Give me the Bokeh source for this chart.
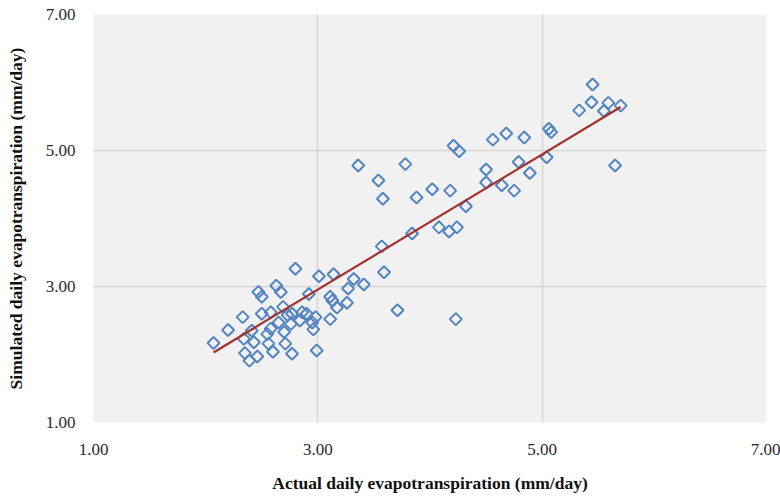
import math
from bokeh.plotting import figure
from bokeh.models import ColumnDataSource, FixedTicker, Range1d
from bokeh.embed import file_html
from bokeh.resources import INLINE

# Actual (x) vs simulated (y) daily evapotranspiration, mm/day
actual = [2.07, 2.20, 2.33, 2.47, 2.50, 2.63, 2.67, 2.92, 2.50, 2.58,
          2.69, 2.73, 2.65, 2.77, 2.86, 2.90, 2.98, 2.84, 2.95, 2.96,
          2.58, 2.41, 2.34, 2.43, 2.55, 2.70, 2.56, 2.71, 2.35, 2.39,
          2.46, 2.60, 2.77, 2.76, 2.99, 2.80, 3.01, 3.14, 3.11, 3.13,
          3.26, 3.17, 3.71, 4.23, 3.11, 3.32, 3.27, 3.41, 3.59, 3.57,
          3.84, 4.08, 4.17, 4.24, 4.32, 3.36, 3.78, 3.54, 3.58, 3.88,
          4.02, 4.18, 4.21, 4.26, 4.50, 4.50, 4.64, 4.75, 4.56, 4.68,
          4.84, 4.79, 4.89, 5.06, 5.08, 5.04, 5.45, 5.44, 5.33, 5.59,
          5.55, 5.70, 5.65]
simulated = [2.17, 2.36, 2.55, 2.92, 2.85, 3.01, 2.92, 2.89, 2.60, 2.62,
             2.70, 2.58, 2.47, 2.60, 2.62, 2.60, 2.55, 2.50, 2.47, 2.37,
             2.38, 2.35, 2.23, 2.18, 2.30, 2.33, 2.16, 2.16, 2.02, 1.91,
             1.97, 2.04, 2.01, 2.45, 2.06, 3.26, 3.15, 3.18, 2.85, 2.79,
             2.76, 2.69, 2.65, 2.52, 2.52, 3.11, 2.97, 3.03, 3.21, 3.59,
             3.78, 3.87, 3.81, 3.87, 4.18, 4.78, 4.80, 4.56, 4.29, 4.31,
             4.43, 4.41, 5.07, 4.99, 4.72, 4.53, 4.49, 4.41, 5.16, 5.25,
             5.19, 4.83, 4.67, 5.32, 5.27, 4.90, 5.97, 5.71, 5.59, 5.70,
             5.58, 5.66, 4.78]

# Linear trend line end points
trend_x = [2.07, 5.70]
trend_y = [2.03, 5.64]

tick_values = [1, 3, 5, 7]
tick_labels = {1: "1.00", 3: "3.00", 5: "5.00", 7: "7.00"}

FONT = "Liberation Serif"

p = figure(width=780, height=498, output_backend="svg", toolbar_location=None,
           x_range=Range1d(1, 7), y_range=Range1d(1, 7),
           min_border_left=93, min_border_right=14, min_border_top=14,
           min_border_bottom=76)
p.outline_line_color = None
p.background_fill_color = "#f1f1f1"
p.border_fill_color = "white"

for ax in (p.xaxis[0], p.yaxis[0]):
    ax.ticker = FixedTicker(ticks=tick_values)
    ax.major_label_overrides = tick_labels
    ax.axis_line_color = None
    ax.major_tick_line_color = None
    ax.minor_tick_line_color = None
    ax.major_label_text_font = FONT
    ax.major_label_text_font_size = "17px"
    ax.major_label_text_color = "#2a2a2a"
    ax.axis_label_text_font = FONT
    ax.axis_label_text_font_size = "17.5px"
    ax.axis_label_text_font_style = "bold"
    ax.axis_label_text_color = "#111111"

p.xaxis.axis_label = "Actual daily evapotranspiration (mm/day)"
p.yaxis.axis_label = "Simulated daily evapotranspiration (mm/day)"
p.xaxis.major_label_standoff = 15
p.xaxis.axis_label_standoff = 15
p.yaxis.major_label_standoff = 12
p.yaxis.axis_label_standoff = 17

p.xgrid.ticker = FixedTicker(ticks=[3, 5])
p.ygrid.ticker = FixedTicker(ticks=[3, 5])
p.xgrid.grid_line_color = "#d6d6d6"
p.ygrid.grid_line_color = "#d6d6d6"
p.xgrid.grid_line_width = 1.5
p.ygrid.grid_line_width = 1.5

src = ColumnDataSource(data=dict(x=actual, y=simulated))
p.scatter("x", "y", source=src, marker="square", size=8.5, angle=math.pi / 4,
          fill_color=None, line_color="#5385c2", line_width=2)

p.line(trend_x, trend_y, line_color="#a3312e", line_width=2.2)

open("out.html", "w").write(file_html(p, INLINE))
